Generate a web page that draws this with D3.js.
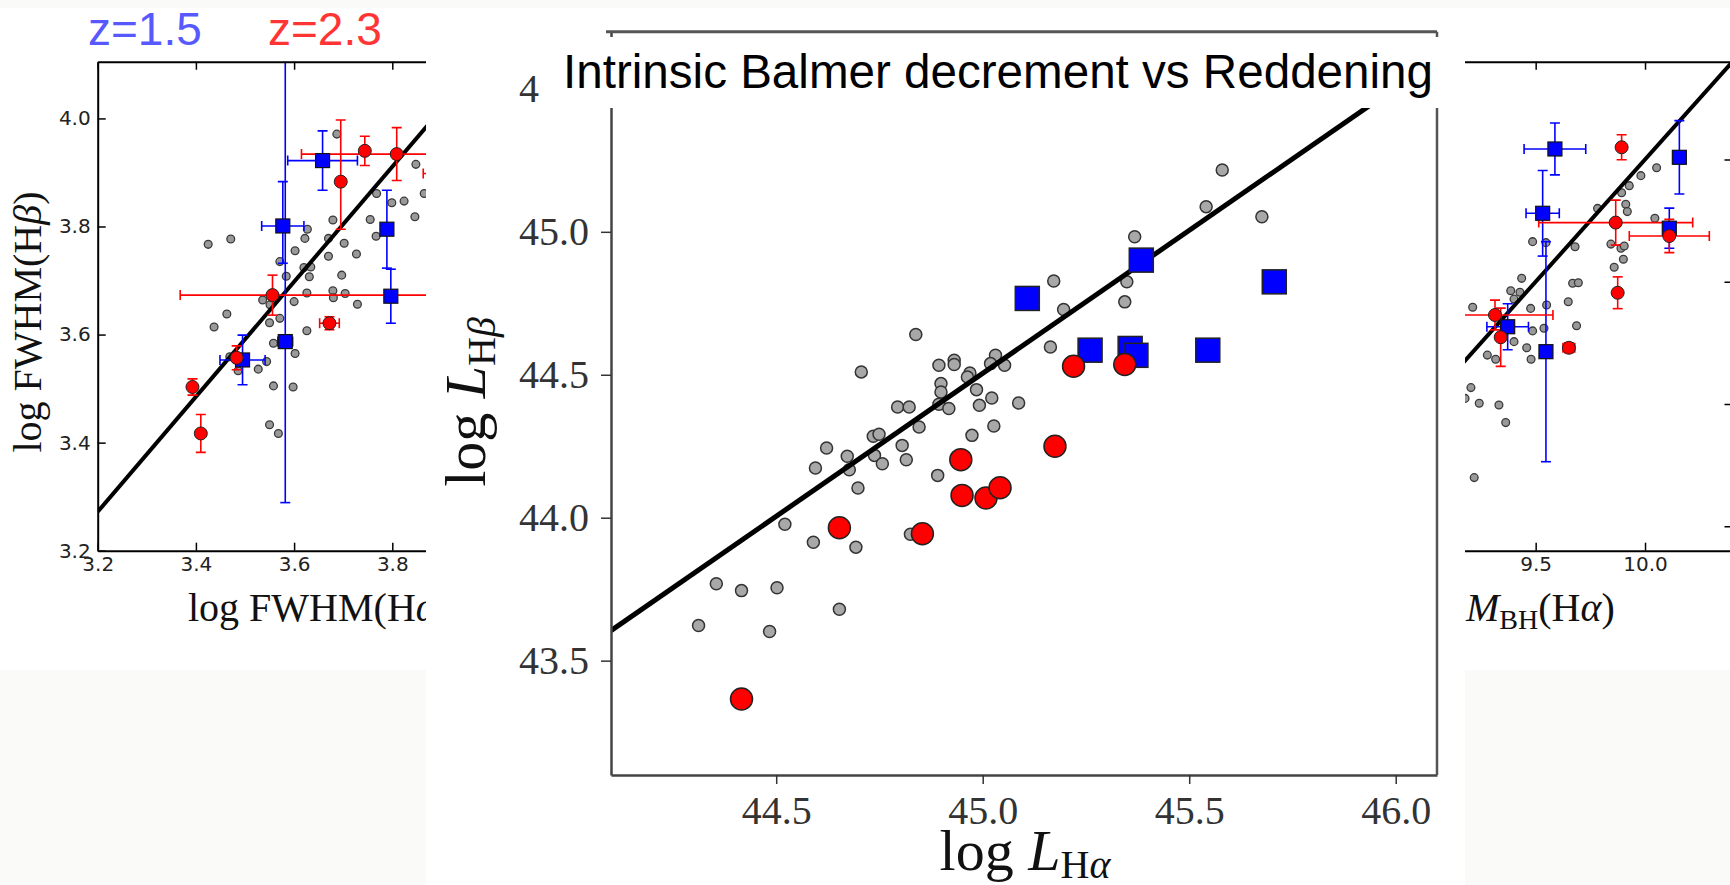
<!DOCTYPE html>
<html>
<head>
<meta charset="utf-8">
<script src="https://cdn.jsdelivr.net/npm/d3@7"></script>
<style>
  body { margin: 0; background: #fafaf8; }
  svg { display: block; }
</style>
</head>
<body>
<svg id="chart" width="1730" height="885"></svg>
<script>
// ---------- data ----------

// left panel: log FWHM(Hb) vs log FWHM(Ha)
const leftGray = [
  [3.687,3.971],[3.848,3.915],[3.865,3.861],[3.768,3.861],[3.799,3.844],[3.824,3.847],
  [3.846,3.818],[3.755,3.813],[3.679,3.812],[3.767,3.782],[3.627,3.795],[3.622,3.778],
  [3.670,3.778],[3.702,3.769],[3.602,3.755],[3.670,3.745],[3.727,3.749],[3.425,3.767],
  [3.471,3.777],[3.571,3.735],[3.620,3.724],[3.634,3.725],[3.584,3.708],[3.631,3.707],
  [3.697,3.710],[3.536,3.664],[3.551,3.655],[3.600,3.661],[3.626,3.677],[3.679,3.681],
  [3.680,3.668],[3.704,3.676],[3.729,3.656],[3.463,3.638],[3.437,3.614],[3.550,3.622],
  [3.571,3.630],[3.626,3.607],[3.558,3.584],[3.602,3.565],[3.469,3.559],[3.527,3.536],
  [3.544,3.550],[3.486,3.533],[3.558,3.505],[3.598,3.503],[3.550,3.433],[3.568,3.417]
];
const leftRed = [
  {x:3.744, y:3.940, xe:[0,0],         ye:[0.027,0.027]},
  {x:3.809, y:3.934, xe:[0.194,0.194], ye:[0.049,0.049]},
  {x:3.695, y:3.883, xe:[0,0],         ye:[0.088,0.114]},
  {x:3.556, y:3.673, xe:[0.188,0.40],  ye:[0.037,0.037]},
  {x:3.672, y:3.621, xe:[0.02,0.02],   ye:[0.012,0.012]},
  {x:3.483, y:3.557, xe:[0,0],         ye:[0.022,0.022]},
  {x:3.393, y:3.503, xe:[0,0],         ye:[0.015,0.015]},
  {x:3.410, y:3.417, xe:[0,0],         ye:[0.035,0.035]},
  {x:3.960, y:3.898, xe:[0.097,0.097], ye:[0.03,0.03]}
];
const leftBlue = [
  {x:3.658, y:3.922, xe:[0.071,0.071], ye:[0.055,0.055]},
  {x:3.577, y:3.801, xe:[0.043,0.043], ye:[0.069,0.082]},
  {x:3.582, y:3.587, xe:[0.015,0.015], ye:[0.298,0.6]},
  {x:3.789, y:3.795, xe:[0,0],         ye:[0.072,0.072]},
  {x:3.797, y:3.671, xe:[0,0],         ye:[0.05,0.05]},
  {x:3.495, y:3.553, xe:[0.046,0.046], ye:[0.046,0.046]}
];
const leftFit = [[3.2, 3.272], [4.1, 4.230]];
const leftXTicks = [3.2, 3.4, 3.6, 3.8, 4.0];
const leftYTicks = [3.2, 3.4, 3.6, 3.8, 4.0];

// right panel: M_BH(Hb) vs M_BH(Ha)
const rightGray = [
  [10.053,9.966],[9.981,9.934],[9.928,9.893],[9.893,9.864],[9.912,9.817],[9.919,9.787],
  [9.783,9.800],[10.045,9.760],[9.844,9.654],[9.890,9.637],[9.905,9.646],[9.901,9.592],
  [9.859,9.559],[9.680,9.643],[9.547,9.660],[9.486,9.664],[9.436,9.514],[9.386,9.463],
  [9.428,9.457],[9.401,9.429],[9.669,9.494],[9.695,9.496],[9.649,9.418],[9.550,9.405],
  [9.477,9.391],[9.212,9.396],[9.687,9.320],[9.538,9.310],[9.486,9.299],[9.279,9.200],
  [9.317,9.183],[9.401,9.255],[9.459,9.230],[9.479,9.183],[9.204,9.067],[9.242,9.003],
  [9.332,8.996],[9.363,8.924],[9.177,9.023],[9.219,8.699]
];
const rightRed = [
  {x:9.893,  y:10.050, xe:[0,0],         ye:[0.051,0.051]},
  {x:9.866,  y:9.742,  xe:[0.352,0.352], ye:[0.092,0.092]},
  {x:10.111, y:9.687,  xe:[0.183,0.183], ye:[0.068,0.068]},
  {x:9.875,  y:9.455,  xe:[0,0],         ye:[0.065,0.065]},
  {x:9.314,  y:9.364,  xe:[0.265,0.265], ye:[0.061,0.061]},
  {x:9.340,  y:9.273,  xe:[0,0],         ye:[0.119,0.119]},
  {x:9.652,  y:9.230,  xe:[0.027,0.027], ye:[0.02,0.02]}
];
const rightBlue = [
  {x:9.588,  y:10.043, xe:[0.141,0.141], ye:[0.106,0.106]},
  {x:10.157, y:10.009, xe:[0,0],         ye:[0.15,0.15]},
  {x:9.532,  y:9.780,  xe:[0.076,0.076], ye:[0.175,0.175]},
  {x:10.111, y:9.719,  xe:[0,0],         ye:[0.082,0.082]},
  {x:9.372,  y:9.316,  xe:[0.095,0.095], ye:[0.094,0.094]},
  {x:9.547,  y:9.214,  xe:[0,0],         ye:[0.45,0.45]}
];
const rightFit = [[8.4, 8.4], [10.4, 10.4]];
const rightXTicks = [8.5, 9.0, 9.5, 10.0];
const rightYTicks = [8.5, 9.0, 9.5, 10.0];

// middle panel: log L_Hb vs log L_Ha
const midGray = [
  [45.580,45.216],[45.541,45.088],[45.676,45.053],[45.368,44.983],[45.172,44.828],[45.349,44.825],
  [45.344,44.755],[45.196,44.728],[44.838,44.641],[45.164,44.597],[44.706,44.510],[44.894,44.533],
  [44.931,44.551],[44.931,44.536],[45.031,44.568],[45.019,44.539],[45.053,44.533],[44.969,44.506],
  [44.899,44.469],[44.899,44.440],[44.963,44.492],[44.985,44.448],[45.022,44.419],[45.087,44.401],
  [44.992,44.393],[44.794,44.387],[44.822,44.387],[44.894,44.397],[44.918,44.382],[45.027,44.321],
  [44.846,44.317],[44.974,44.288],[44.735,44.285],[44.749,44.292],[44.805,44.253],[44.622,44.244],
  [44.672,44.215],[44.738,44.218],[44.595,44.174],[44.677,44.168],[44.757,44.189],[44.815,44.203],
  [44.891,44.148],[44.698,44.104],[44.521,43.977],[44.590,43.914],[44.693,43.897],[44.825,43.942],
  [44.355,43.769],[44.416,43.745],[44.502,43.755],[44.653,43.680],[44.312,43.623],[44.484,43.602]
];
const midBlue = [
  [45.108,44.767],[45.384,44.901],[45.260,44.586],[45.357,44.592],[45.371,44.568],[45.545,44.586],[45.706,44.825]
];
const midRed = [
  [45.220,44.530],[45.344,44.536],[45.175,44.250],[44.947,44.203],[44.950,44.078],
  [45.008,44.069],[45.042,44.105],[44.653,43.965],[44.854,43.944],[44.416,43.366]
];
const midFit = [[44.1, 43.605], [46.1, 45.605]];
const midXTicks = [44.5, 45.0, 45.5, 46.0];
const midYTicks = [43.5, 44.0, 44.5, 45.0, 45.5];

const titleText = "Intrinsic Balmer decrement vs Reddening";

// ---------- drawing ----------
const svg = d3.select("#chart");
const serif = "'Liberation Serif', 'Times New Roman', serif";
const sans = "'Liberation Sans', Arial, sans-serif";

// white areas of the side figures (the page itself is a slightly off-white scan)
svg.append("rect").attr("x", 0).attr("y", 8).attr("width", 426).attr("height", 662).attr("fill", "#fff");
svg.append("rect").attr("x", 1465).attr("y", 8).attr("width", 265).attr("height", 662).attr("fill", "#fff");

// steps between two values (for minor ticks)
function steps(a, b, s) {
  const out = [];
  for (let v = a; v <= b + 1e-9; v += s) out.push(+v.toFixed(4));
  return out;
}

// draws one of the small cropped side figures
function drawSidePanel(o) {
  const g = svg.append("g");
  const x = d3.scaleLinear().domain(o.xDomain).range(o.xRange);
  const y = d3.scaleLinear().domain(o.yDomain).range(o.yRange);
  const left = o.xRange[0], right = o.xRange[1];
  const bottom = o.yRange[0], top = o.yRange[1];

  g.append("clipPath").attr("id", o.id + "-clip")
    .append("rect")
    .attr("x", left).attr("y", top)
    .attr("width", right - left).attr("height", bottom - top);

  const plot = g.append("g").attr("clip-path", `url(#${o.id}-clip)`);

  plot.selectAll(".gray")
    .data(o.gray)
    .enter().append("circle")
    .attr("cx", d => x(d[0]))
    .attr("cy", d => y(d[1]))
    .attr("r", 3.9)
    .attr("fill", "#999")
    .attr("stroke", "#3a3a3a")
    .attr("stroke-width", 1.3);

  plot.append("path")
    .datum(o.fit)
    .attr("fill", "none")
    .attr("stroke", "#000")
    .attr("stroke-width", 4)
    .attr("d", d3.line().x(d => x(d[0])).y(d => y(d[1])));

  // error bars, blue first then red
  [[o.blue, "#0000ff"], [o.red, "#ff0000"]].forEach(([pts, col]) => {
    pts.forEach(p => {
      const eb = plot.append("g").attr("stroke", col).attr("stroke-width", 1.6);
      const cx = x(p.x), cy = y(p.y);
      const ya = y(p.y - p.ye[0]), yb = y(p.y + p.ye[1]);
      eb.append("line").attr("x1", cx).attr("x2", cx).attr("y1", ya).attr("y2", yb);
      eb.append("line").attr("x1", cx - 5).attr("x2", cx + 5).attr("y1", ya).attr("y2", ya);
      eb.append("line").attr("x1", cx - 5).attr("x2", cx + 5).attr("y1", yb).attr("y2", yb);
      if (p.xe[0] > 0) {
        const xa = x(p.x - p.xe[0]), xb = x(p.x + p.xe[1]);
        eb.append("line").attr("x1", xa).attr("x2", xb).attr("y1", cy).attr("y2", cy);
        eb.append("line").attr("x1", xa).attr("x2", xa).attr("y1", cy - 5).attr("y2", cy + 5);
        eb.append("line").attr("x1", xb).attr("x2", xb).attr("y1", cy - 5).attr("y2", cy + 5);
      }
    });
  });

  plot.selectAll(".blue")
    .data(o.blue)
    .enter().append("rect")
    .attr("x", d => x(d.x) - 7)
    .attr("y", d => y(d.y) - 7)
    .attr("width", 14).attr("height", 14)
    .attr("fill", "#0000ff")
    .attr("stroke", "#111")
    .attr("stroke-width", 1.2);

  plot.selectAll(".red")
    .data(o.red)
    .enter().append("circle")
    .attr("cx", d => x(d.x))
    .attr("cy", d => y(d.y))
    .attr("r", 6.5)
    .attr("fill", "#ff0000")
    .attr("stroke", "#222")
    .attr("stroke-width", 1);

  // axes, ticks pointing into the plot
  const fmt = d3.format(".1f");
  const styleAxis = sel => {
    sel.select(".domain").attr("stroke", "#000").attr("stroke-width", 2);
    sel.selectAll(".tick line").attr("stroke", "#000").attr("stroke-width", 1.5);
    sel.selectAll("text").attr("font-family", "'DejaVu Sans', sans-serif")
      .attr("font-size", 20).attr("fill", "#222");
  };

  const xb = g.append("g").attr("transform", `translate(0,${bottom})`);
  xb.call(d3.axisBottom(x).tickValues(o.xMinor).tickFormat("").tickSizeInner(-4).tickSizeOuter(0));
  xb.call(d3.axisBottom(x).tickValues(o.xTicks).tickFormat(fmt).tickSizeInner(-8).tickSizeOuter(0).tickPadding(6));
  styleAxis(xb);

  const xt = g.append("g").attr("transform", `translate(0,${top})`);
  xt.call(d3.axisTop(x).tickValues(o.xMinor).tickFormat("").tickSizeInner(-4).tickSizeOuter(0));
  xt.call(d3.axisTop(x).tickValues(o.xTicks).tickFormat("").tickSizeInner(-8).tickSizeOuter(0));
  styleAxis(xt);

  const yl = g.append("g").attr("transform", `translate(${left},0)`);
  yl.call(d3.axisLeft(y).tickValues(o.yMinor).tickFormat("").tickSizeInner(-4).tickSizeOuter(0));
  yl.call(d3.axisLeft(y).tickValues(o.yTicks).tickFormat(fmt).tickSizeInner(-8).tickSizeOuter(0).tickPadding(7));
  styleAxis(yl);

  const yr = g.append("g").attr("transform", `translate(${right},0)`);
  yr.call(d3.axisRight(y).tickValues(o.yMinor).tickFormat("").tickSizeInner(-4).tickSizeOuter(0));
  yr.call(d3.axisRight(y).tickValues(o.yTicks).tickFormat("").tickSizeInner(-8).tickSizeOuter(0));
  styleAxis(yr);

  return g;
}

// left figure
const leftG = drawSidePanel({
  id: "left",
  xDomain: [3.2, 4.1], xRange: [97.7, 539.6],
  yDomain: [3.2, 4.105], yRange: [550.7, 61.7],
  gray: leftGray, red: leftRed, blue: leftBlue, fit: leftFit,
  xTicks: leftXTicks, yTicks: leftYTicks,
  xMinor: steps(3.2, 4.1, 0.04), yMinor: steps(3.2, 4.1, 0.05)
});

leftG.append("text")
  .attr("transform", "translate(41,322) rotate(-90)")
  .attr("text-anchor", "middle")
  .attr("font-family", serif).attr("font-size", 40).attr("fill", "#111")
  .call(t => {
    t.append("tspan").text("log FWHM(H");
    t.append("tspan").attr("font-style", "italic").text("β");
    t.append("tspan").text(")");
  });

leftG.append("text")
  .attr("x", 188).attr("y", 621)
  .attr("font-family", serif).attr("font-size", 40).attr("fill", "#111")
  .call(t => {
    t.append("tspan").text("log FWHM(H");
    t.append("tspan").attr("font-style", "italic").text("α");
    t.append("tspan").text(")");
  });

leftG.append("text")
  .attr("x", 88).attr("y", 45)
  .attr("font-family", sans).attr("font-size", 46).attr("fill", "#5858ff")
  .text("z=1.5");

leftG.append("text")
  .attr("x", 268).attr("y", 45)
  .attr("font-family", sans).attr("font-size", 46).attr("fill", "#ff3535")
  .text("z=2.3");

// right figure
const rightG = drawSidePanel({
  id: "right",
  xDomain: [8.4, 10.4], xRange: [1295.1, 1732.5],
  yDomain: [8.4, 10.4], yRange: [550.7, 61.7],
  gray: rightGray, red: rightRed, blue: rightBlue, fit: rightFit,
  xTicks: rightXTicks, yTicks: rightYTicks,
  xMinor: steps(8.4, 10.4, 0.1), yMinor: steps(8.4, 10.4, 0.1)
});

rightG.append("text")
  .attr("x", 1466).attr("y", 621)
  .attr("font-family", serif).attr("font-size", 40).attr("fill", "#111")
  .call(t => {
    t.append("tspan").attr("font-style", "italic").text("M");
    t.append("tspan").attr("font-size", 28).attr("dy", 8).text("BH");
    t.append("tspan").attr("dy", -8).text("(H");
    t.append("tspan").attr("font-style", "italic").text("α");
    t.append("tspan").text(")");
  });

// ---------- middle figure, pasted on top ----------
const mid = svg.append("g");
mid.append("rect").attr("x", 426).attr("y", 8).attr("width", 1039).attr("height", 877).attr("fill", "#fff");

const mx = d3.scaleLinear().domain([44.1, 46.1]).range([611, 1437]);
const my = d3.scaleLinear().domain([43.1, 45.7]).range([775, 31.7]);

mid.append("clipPath").attr("id", "mid-clip")
  .append("rect").attr("x", 611).attr("y", 31.7).attr("width", 826).attr("height", 743.3);

const mplot = mid.append("g").attr("clip-path", "url(#mid-clip)");

mplot.selectAll(".gray")
  .data(midGray)
  .enter().append("circle")
  .attr("cx", d => mx(d[0]))
  .attr("cy", d => my(d[1]))
  .attr("r", 6)
  .attr("fill", "#a8a8a8")
  .attr("stroke", "#333")
  .attr("stroke-width", 1.5);

mplot.append("path")
  .datum(midFit)
  .attr("fill", "none")
  .attr("stroke", "#000")
  .attr("stroke-width", 5)
  .attr("d", d3.line().x(d => mx(d[0])).y(d => my(d[1])));

mplot.selectAll(".blue")
  .data(midBlue)
  .enter().append("rect")
  .attr("x", d => mx(d[0]) - 12)
  .attr("y", d => my(d[1]) - 12)
  .attr("width", 24).attr("height", 24)
  .attr("fill", "#0000ff")
  .attr("stroke", "#222")
  .attr("stroke-width", 1.5);

mplot.selectAll(".red")
  .data(midRed)
  .enter().append("circle")
  .attr("cx", d => mx(d[0]))
  .attr("cy", d => my(d[1]))
  .attr("r", 11)
  .attr("fill", "#ff0000")
  .attr("stroke", "#222")
  .attr("stroke-width", 1.5);

// axes of the middle figure, ticks outward
const midFmt = d3.format(".1f");
const styleMid = sel => {
  sel.select(".domain").attr("stroke", "#444").attr("stroke-width", 2.5);
  sel.selectAll(".tick line").attr("stroke", "#333").attr("stroke-width", 1.5);
  sel.selectAll("text").attr("font-family", serif).attr("font-size", 40).attr("fill", "#333");
};

const mxa = mid.append("g").attr("transform", "translate(0,775)");
mxa.call(d3.axisBottom(mx).tickValues(steps(44.1, 46.1, 0.1)).tickFormat("").tickSizeInner(5).tickSizeOuter(0));
mxa.call(d3.axisBottom(mx).tickValues(midXTicks).tickFormat(midFmt).tickSizeInner(9).tickSizeOuter(0).tickPadding(12));
styleMid(mxa);

const mya = mid.append("g").attr("transform", "translate(611,0)");
mya.call(d3.axisLeft(my).tickValues(steps(43.1, 45.7, 0.1)).tickFormat("").tickSizeInner(6).tickSizeOuter(0));
mya.call(d3.axisLeft(my).tickValues(midYTicks).tickFormat(midFmt).tickSizeInner(10).tickSizeOuter(0).tickPadding(12));
styleMid(mya);

// top and right frame
mid.append("line").attr("x1", 606).attr("x2", 1437).attr("y1", 31.7).attr("y2", 31.7)
  .attr("stroke", "#555").attr("stroke-width", 3);
mid.append("line").attr("x1", 1437).attr("x2", 1437).attr("y1", 31.7).attr("y2", 775)
  .attr("stroke", "#555").attr("stroke-width", 2.5);

mid.append("text")
  .attr("transform", "translate(485,402) rotate(-90)")
  .attr("text-anchor", "middle")
  .attr("font-family", serif).attr("font-size", 58).attr("fill", "#111")
  .call(t => {
    t.append("tspan").text("log ");
    t.append("tspan").attr("font-style", "italic").text("L");
    t.append("tspan").attr("font-size", 40).attr("dy", 10).text("H");
    t.append("tspan").attr("font-size", 40).attr("font-style", "italic").text("β");
  });

mid.append("text")
  .attr("x", 1025).attr("y", 870)
  .attr("text-anchor", "middle")
  .attr("font-family", serif).attr("font-size", 58).attr("fill", "#111")
  .call(t => {
    t.append("tspan").text("log ");
    t.append("tspan").attr("font-style", "italic").text("L");
    t.append("tspan").attr("font-size", 40).attr("dy", 8).text("H");
    t.append("tspan").attr("font-size", 40).attr("font-style", "italic").text("α");
  });

// title sits in its own white box over the top of the plot
mid.append("rect").attr("x", 539).attr("y", 37).attr("width", 906).attr("height", 71).attr("fill", "#fff");
mid.append("text")
  .attr("x", 563).attr("y", 88)
  .attr("font-family", sans).attr("font-size", 48).attr("fill", "#000")
  .attr("textLength", 870).attr("lengthAdjust", "spacingAndGlyphs")
  .text(titleText);
</script>
</body>
</html>
